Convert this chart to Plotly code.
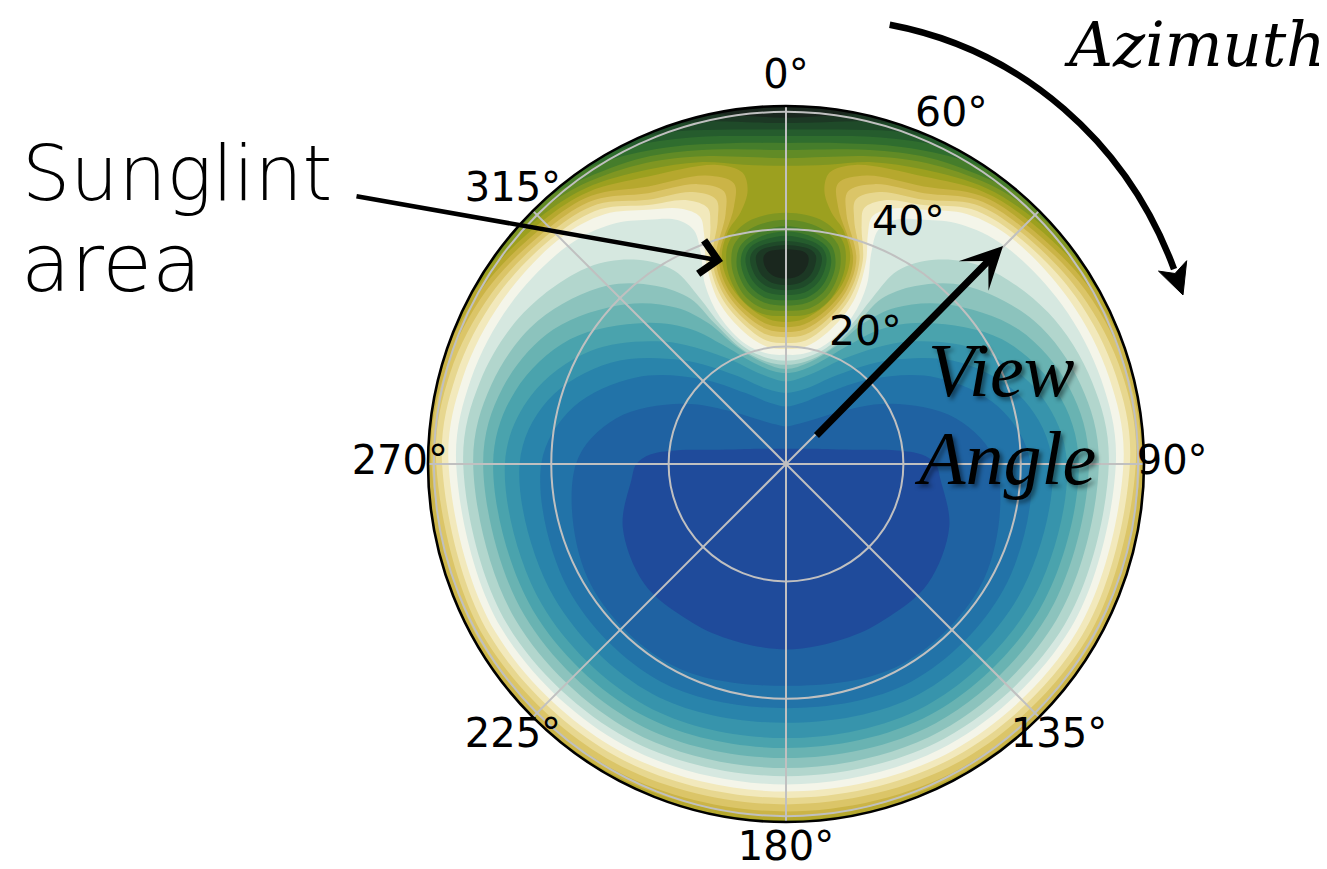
import plotly.graph_objects as go

# ---------------- data ----------------
# colour of each filled band, lowest value (0) to highest (24)
BAND_COLORS = [
    "#1f4b9b", "#1f62a2", "#2273a8", "#2984ab", "#3794ac", "#4aa3ad",
    "#69b3b2", "#8cc3bd", "#b2d6cd", "#d6e8e0", "#f4f5e9", "#f2e9bc",
    "#e7d78f", "#dbc568", "#cbb447", "#b6a82e", "#9ca01f", "#7f9622",
    "#618b26", "#457d2b", "#2f6d2e", "#255c2d", "#1f4a29", "#1c3824",
    "#1a271e",
]

# contour k = border between band k-1 and band k, right half of the disc
# (azimuth deg clockwise from north, view angle deg), from 180 deg to 0 deg
C01 = [(180, 31.6), (160, 31.4), (146, 31.4), (130, 31.6), (111, 29.8), (96, 26.5), (90, 25.5),
       (86, 23.2), (83, 19.0), (79, 12.8), (72, 8.2), (60, 5.2), (40, 3.4), (0, 2.6)]
C02 = [(180, 37.8), (150, 39.4), (120, 39.0), (90, 35.8), (75, 30.0), (60, 20.5), (45, 12.5),
       (30, 8.6), (15, 7.0), (0, 6.4)]
C03 = [(180, 41.6), (150, 42.8), (120, 42.8), (90, 41.7), (75, 37.5), (60, 29.5), (45, 20.5),
       (30, 14.0), (15, 10.8), (0, 9.8)]
C04 = [(180, 44.1), (150, 45.3), (120, 45.6), (90, 45.4), (75, 42.0), (60, 34.5), (45, 25.0),
       (30, 17.5), (15, 13.3), (0, 12.1)]
C05 = [(180, 46.7), (150, 47.6), (120, 48.0), (90, 47.9), (75, 45.0), (60, 38.5), (45, 29.5),
       (30, 21.0), (15, 15.8), (0, 14.1)]
C06 = [(180, 48.4), (150, 49.3), (120, 49.8), (90, 49.9), (75, 47.8), (60, 42.5), (45, 34.0),
       (35, 28.0), (28, 23.0), (18, 18.2), (8, 16.0), (0, 15.5)]
C07 = [(180, 50.1), (150, 51.0), (120, 51.5), (90, 51.6), (75, 50.0), (60, 45.8), (45, 38.5),
       (35, 32.5), (29, 27.5), (23, 21.8), (13, 17.8), (0, 16.2)]
C08 = [(180, 51.8), (150, 52.6), (120, 53.2), (90, 53.3), (75, 52.0), (60, 48.8), (45, 43.0),
       (36, 37.5), (30, 32.5), (27, 27.0), (21, 21.0), (11, 17.8), (0, 16.9)]
C09 = [(180, 53.2), (150, 54.0), (120, 54.8), (90, 55.0), (75, 54.0), (60, 51.6), (45, 47.5),
       (36, 43.0), (30, 38.0), (27.5, 32.0), (25, 26.0), (18.5, 20.6), (9, 18.2), (0, 17.6)]
C10 = [(180, 54.6), (150, 55.3), (120, 56.0), (90, 56.2), (75, 55.6), (60, 54.3), (45, 52.6),
       (36, 50.5), (29.5, 47.8), (24, 45.5), (21.5, 42.8), (22, 38.8), (24.3, 33.5),
       (24.2, 27.5), (18.5, 21.5), (9, 19.0), (0, 18.6)]
C11 = [(180, 55.8), (150, 56.5), (120, 57.2), (90, 57.5), (75, 57.0), (60, 55.8), (45, 54.4),
       (36, 52.6), (28.5, 49.3), (22.3, 47.0), (19.2, 44.6), (19.6, 41.6), (21.6, 37.0),
       (22.5, 30.0), (17.5, 23.5), (9, 20.2), (0, 19.6)]
C12 = [(180, 56.9), (150, 57.6), (120, 58.3), (90, 58.6), (75, 58.2), (60, 57.0), (45, 55.3),
       (36, 53.7), (28, 50.0), (20.5, 48.0), (17, 45.6), (17.6, 42.6), (20.7, 37.0),
       (21.2, 30.5), (16.5, 24.6), (9, 21.3), (0, 20.6)]
C13 = [(180, 58.0), (150, 58.7), (120, 59.3), (90, 59.6), (75, 59.3), (60, 58.0), (45, 56.2),
       (36, 54.7), (27.6, 50.8), (19, 49.0), (14.8, 46.6), (15.6, 43.2), (19.8, 37.0),
       (20.2, 31.0), (15.8, 25.5), (8.5, 22.3), (0, 21.6)]
C14 = [(180, 59.2), (150, 59.8), (120, 60.3), (90, 60.4), (75, 60.2), (60, 59.0), (45, 57.0),
       (36, 55.6), (27, 51.8), (17.5, 50.0), (12.8, 47.6), (13.6, 43.8), (18.9, 37.0),
       (19.3, 31.5), (15.2, 26.3), (8, 23.2), (0, 22.5)]
C15 = [(180, 60.0), (150, 60.6), (120, 61.2), (90, 61.5), (75, 61.2), (60, 59.8), (45, 57.8),
       (36, 56.5), (26.4, 52.8), (15.5, 51.0), (10.5, 48.6), (11.5, 44.6), (18.0, 37.0),
       (18.5, 32.0), (14.5, 27.0), (7.5, 24.0), (0, 23.3)]
C16 = [(180, 60.7), (150, 61.4), (120, 62.0), (90, 62.5), (75, 62.2), (60, 60.6), (45, 58.6),
       (36, 57.3), (25.6, 54.3), (13, 52.3), (8.5, 50.2), (8.0, 47.0), (10.2, 43.6), (13.8, 41.0),
       (17.2, 37.0), (17.5, 32.5), (13.8, 27.8), (7, 24.9), (0, 24.2)]
# the darkest levels only reach the disc near the top of the rim
C17 = [(62, 61.6), (55, 60.6), (45, 59.4), (36, 58.1), (25.1, 55.4), (16, 53.5), (8, 51.5), (0, 50.8)]
C18 = [(54, 61.6), (50, 61.0), (45, 60.3), (36, 58.9), (25, 56.6), (15, 54.3), (7, 52.7), (0, 52.1)]
C19 = [(46, 61.6), (43, 61.2), (36, 59.7), (25, 57.6), (15, 55.4), (7, 54.0), (0, 53.5)]
C20 = [(39, 61.6), (36.5, 61.2), (30, 59.9), (20, 57.5), (10, 55.5), (0, 54.7)]
C21 = [(33, 61.6), (31, 61.2), (25, 60.0), (15, 57.7), (7, 56.3), (0, 55.9)]
C22 = [(27, 61.6), (25, 61.2), (18, 59.6), (9, 57.7), (0, 57.0)]
C23 = [(21, 61.6), (19, 61.2), (12, 59.7), (5, 58.4), (0, 58.1)]
C24 = [(15, 61.6), (13, 61.2), (7, 59.8), (0, 59.0)]

# sunglint spot: closed contours k (17..24), right half from its bottom to its top
B17 = [(0, 25.2), (9, 25.9), (14.5, 28.5), (16.6, 32.0), (16.6, 35.5), (14.5, 39.0), (9, 41.8), (0, 42.8)]
B18 = [(0, 26.1), (8.5, 26.8), (13.5, 29.2), (15.3, 32.3), (15.2, 35.5), (13.2, 38.5), (8, 40.7), (0, 41.6)]
B19 = [(0, 27.0), (7.5, 27.7), (12.2, 29.9), (13.9, 32.6), (13.8, 35.4), (11.8, 38.0), (7, 39.7), (0, 40.5)]
B20 = [(0, 27.9), (6.9, 28.5), (11.0, 30.5), (12.6, 33.0), (12.5, 35.6), (10.7, 37.6), (6.3, 39.0), (0, 39.6)]
B21 = [(0, 28.8), (6.2, 29.4), (9.8, 31.2), (11.2, 33.5), (11.1, 35.8), (9.4, 37.4), (5.5, 38.4), (0, 38.9)]
B22 = [(0, 29.6), (5.4, 30.2), (8.6, 31.8), (9.9, 33.8), (9.8, 35.8), (8.2, 37.0), (4.8, 37.7), (0, 38.0)]
B23 = [(0, 30.5), (4.5, 31.0), (7.3, 32.4), (8.3, 34.1), (8.2, 35.8), (6.8, 36.7), (4.0, 37.1), (0, 37.3)]
B24 = [(0, 31.6), (3.4, 32.0), (5.5, 33.1), (6.3, 34.4), (6.1, 35.6), (4.8, 36.3), (2.7, 36.5), (0, 36.6)]

ANGLE_TICKS = [0, 45, 90, 135, 180, 225, 270, 315]
ANGLE_LABELS = {0: "0°", 90: "90°", 135: "135°", 180: "180°", 225: "225°", 270: "270°", 315: "315°"}
RADIAL_TICKS = [20, 40, 60]
RADIAL_LABELS = ["20°", "40°", "60°"]
R_MAX = 61

CONTOURS = [C01, C02, C03, C04, C05, C06, C07, C08, C09, C10, C11, C12,
            C13, C14, C15, C16, C17, C18, C19, C20, C21, C22, C23, C24]
SPOTS = {17: B17, 18: B18, 19: B19, 20: B20, 21: B21, 22: B22, 23: B23, 24: B24}

# ---------------- figure ----------------
W, H = 1327, 869
CX, CY, RPX = 778, 456, 358
PX_PER_DEG = RPX / R_MAX
GRID = "#c0c0c0"


def domain_for(rmax):
    rad = PX_PER_DEG * rmax
    return dict(x=[(CX - rad) / W, (CX + rad) / W], y=[1 - (CY + rad) / H, 1 - (CY - rad) / H])


fig = go.Figure()


def closed_from_half(right):
    """right half (180 -> 0) mirrored about the 0-180 line."""
    th = [a for a, _ in right] + [360 - a for a, _ in reversed(right[:-1])]
    rr = [r for _, r in right] + [r for _, r in reversed(right[:-1])]
    return th, rr


def add_fill(th, rr, color):
    fig.add_trace(go.Scatterpolar(
        theta=th, r=rr, mode="lines", fill="toself", fillcolor=color,
        line=dict(width=0, shape="spline", smoothing=1, color=color),
        hoverinfo="skip", subplot="polar"))


# paint the regions below each level, highest level first
for k in range(len(CONTOURS), 0, -1):
    pts = list(CONTOURS[k - 1])
    if pts[0][0] != 180:  # close the region outside the disc
        first = pts[0][0]
        arc = [(a, R_MAX + 3) for a in range(180, int(first) + 4, -10)]
        pts = arc + pts
    th, rr = closed_from_half(pts)
    add_fill(th, rr, BAND_COLORS[k - 1])

# then the sunglint spot, lowest level first
for k in sorted(SPOTS):
    pts = SPOTS[k]
    th = [a for a, _ in pts] + [360 - a for a, _ in reversed(pts[1:-1])] + [pts[0][0]]
    rr = [r for _, r in pts] + [r for _, r in reversed(pts[1:-1])] + [pts[0][1]]
    add_fill(th, rr, BAND_COLORS[k])

# tick labels, on a larger overlay polar subplot with the same degree scale
LABEL_RMAX = 70
lab_font = dict(family="DejaVu Sans", size=40, color="black")
ang_vals = [a for a in ANGLE_TICKS if a in ANGLE_LABELS]
fig.add_trace(go.Scatterpolar(
    theta=ang_vals, r=[65.8] * len(ang_vals), mode="text",
    text=[ANGLE_LABELS[a] for a in ang_vals], textposition="middle center",
    textfont=lab_font, cliponaxis=False, hoverinfo="skip", subplot="polar3"))
fig.add_trace(go.Scatterpolar(
    theta=[21.5] * len(RADIAL_TICKS), r=RADIAL_TICKS, mode="text",
    text=RADIAL_LABELS, textposition="top right",
    textfont=dict(lab_font, size=41), cliponaxis=False, hoverinfo="skip", subplot="polar3"))
# invisible carrier so the grid overlay is drawn
fig.add_trace(go.Scatterpolar(theta=[0], r=[0], mode="markers", marker=dict(size=1, opacity=0),
                              hoverinfo="skip", subplot="polar2"))

hidden_axes = dict(
    angularaxis=dict(rotation=90, direction="clockwise", visible=False),
)
fig.update_layout(
    template="none", width=W, height=H, margin=dict(l=0, r=0, t=0, b=0),
    paper_bgcolor="white", plot_bgcolor="white", showlegend=False,
    polar=dict(domain=domain_for(R_MAX), bgcolor=BAND_COLORS[-1], **hidden_axes,
               radialaxis=dict(range=[0, R_MAX], visible=False)),
    polar2=dict(domain=domain_for(R_MAX), bgcolor="rgba(0,0,0,0)",
                angularaxis=dict(rotation=90, direction="clockwise", tickvals=ANGLE_TICKS,
                                 showticklabels=False, ticks="", showgrid=True,
                                 gridcolor=GRID, gridwidth=1.8, showline=True,
                                 linecolor="black", linewidth=2.6),
                radialaxis=dict(range=[0, R_MAX], tickvals=RADIAL_TICKS, showticklabels=False,
                                ticks="", showline=False, showgrid=True,
                                gridcolor=GRID, gridwidth=1.8)),
    polar3=dict(domain=domain_for(LABEL_RMAX), bgcolor="rgba(0,0,0,0)", **hidden_axes,
                radialaxis=dict(range=[0, LABEL_RMAX], visible=False)),
)


def px(x, y):
    return x / W, 1 - y / H


def P(x, y):
    a, b = px(x, y)
    return f"{a:.5f},{b:.5f}"


# annotation texts
sans = dict(family="DejaVu Sans", color="black", weight=200)
serif = dict(family="Liberation Serif", color="black", style="italic")
shadow = "3px 3px 4px rgba(0,0,0,0.45)"
texts = [
    ("Sunglint", 12, 165, "left", dict(sans, size=76)),
    ("area", 11, 255, "left", dict(sans, size=81)),
    ("Azimuth", 1187, 37, "center", dict(family="DejaVu Serif", color="black", style="italic", size=61)),
    ("View", 993, 362, "center", dict(serif, size=76, shadow=shadow)),
    ("Angle", 997, 450, "center", dict(serif, size=76, shadow=shadow)),
]
for t, x, y, xa, f in texts:
    ax_, ay_ = px(x, y)
    fig.add_annotation(text=t, x=ax_, y=ay_, xref="paper", yref="paper", xanchor=xa,
                       yanchor="middle", showarrow=False, font=f)

# straight arrows
tip_x, tip_y = px(715, 253)
fig.add_annotation(text="", x=tip_x, y=tip_y, xref="paper", yref="paper", showarrow=True,
                   ax=347 - 715, ay=188 - 253, arrowhead=4, arrowsize=1.45, arrowwidth=4.5,
                   arrowcolor="black", standoff=0)
tip_x, tip_y = px(995, 238)
fig.add_annotation(text="", x=tip_x, y=tip_y, xref="paper", yref="paper", showarrow=True,
                   ax=807 - 995, ay=429 - 238, arrowhead=3, arrowsize=1.0, arrowwidth=7,
                   arrowcolor="black", standoff=0)

# curved azimuth arrow
fig.add_shape(type="path", xref="paper", yref="paper",
              path=f"M {P(881.7, 16.7)} C {P(1013.9, 41.6)} {P(1119.3, 134.8)} {P(1166, 261)}",
              line=dict(color="black", width=6.5))
fig.add_shape(type="path", xref="paper", yref="paper",
              path=f"M {P(1175, 287)} L {P(1150.5, 263.1)} L {P(1167, 265.5)} L {P(1178.7, 252.7)} Z",
              fillcolor="black", line=dict(color="black", width=1))

fig.write_html("out.html")
